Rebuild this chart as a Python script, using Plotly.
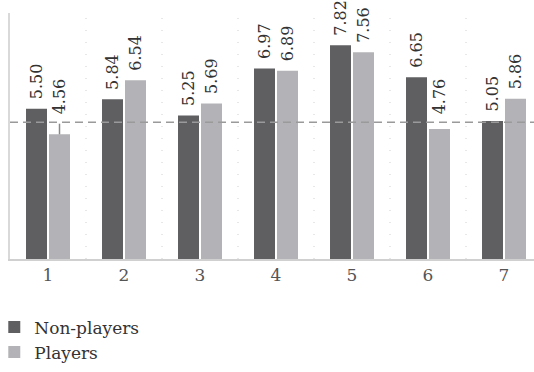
import plotly.graph_objects as go

# Group means per item, two respondent groups
items = [1, 2, 3, 4, 5, 6, 7]
tick_labels = ["1", "2", "3", "4", "5", "6", "7"]
non_players = [5.50, 5.84, 5.25, 6.97, 7.82, 6.65, 5.05]
players = [4.56, 6.54, 5.69, 6.89, 7.56, 4.76, 5.86]
reference_level = 5.0

DARK = "#5f5f62"
LIGHT = "#b3b3b7"
FONT = "DejaVu Serif"

fig = go.Figure()
fig.add_trace(go.Bar(name="Non-players", x=items, y=non_players,
                     marker=dict(color=DARK, line=dict(width=0))))
fig.add_trace(go.Bar(name="Players", x=items, y=players,
                     marker=dict(color=LIGHT, line=dict(width=0))))

bargap = 0.395
bargroupgap = 0.087
slot = (1 - bargap) / 2
half = slot / 2

# value labels, rotated, above each bar
label_floor = 5.2  # short bars get their label lifted above the reference line
for series, sign in ((non_players, -1), (players, 1)):
    for xi, v in zip(items, series):
        xc = xi + sign * half
        y_lab = v
        lifted = False
        if v < reference_level:
            y_lab = label_floor
            lifted = True
        fig.add_annotation(
            x=xc, y=y_lab, xref="x", yref="y",
            text=f"{v:.2f}", showarrow=False, textangle=-90,
            xanchor="center", yanchor="bottom",
            yshift=0 if lifted else 7,
            font=dict(family=FONT, size=16, color="#333333"),
        )
        if lifted and y_lab - v > 0.45:
            fig.add_shape(type="line", xref="x", yref="y",
                          x0=xc, x1=xc, y0=v, y1=reference_level - 0.05,
                          line=dict(color="#888888", width=1.5), layer="above")

# dotted separators between item groups
for b in range(1, len(items) + 1):
    fig.add_shape(type="line", xref="x", yref="paper",
                  x0=b + 0.5, x1=b + 0.5, y0=0, y1=1,
                  line=dict(color="#d0d0d0", width=1, dash="1px,11px"),
                  layer="below")

# dashed reference line
fig.add_shape(type="line", xref="paper", yref="y",
              x0=0, x1=1, y0=reference_level, y1=reference_level,
              line=dict(color="#9a9a9a", width=1.5, dash="8px,5px"),
              layer="above")

fig.update_layout(
    width=534, height=372,
    margin=dict(l=10, r=0, t=13, b=113, autoexpand=False),
    paper_bgcolor="white", plot_bgcolor="white",
    barmode="group", bargap=bargap, bargroupgap=bargroupgap,
    font=dict(family=FONT, size=17, color="#555555"),
    showlegend=True,
    legend=dict(x=-0.03, y=-0.205, xanchor="left", yanchor="top",
                orientation="v", font=dict(family=FONT, size=17, color="#333333"),
                bgcolor="rgba(0,0,0,0)", itemclick=False, itemwidth=30),
    xaxis=dict(range=[0.5, 0.5 + 524 / 76], tickvals=items, ticktext=tick_labels,
               showgrid=False, zeroline=False, showline=True,
               linecolor="#d0d0d0", linewidth=2, ticks="",
               tickfont=dict(family=FONT, size=17, color="#555555")),
    yaxis=dict(range=[0, 9], showgrid=False, zeroline=False, showline=True,
               linecolor="#d9d9d9", linewidth=1.5, showticklabels=False, ticks=""),
)

fig.write_html("out.html")
